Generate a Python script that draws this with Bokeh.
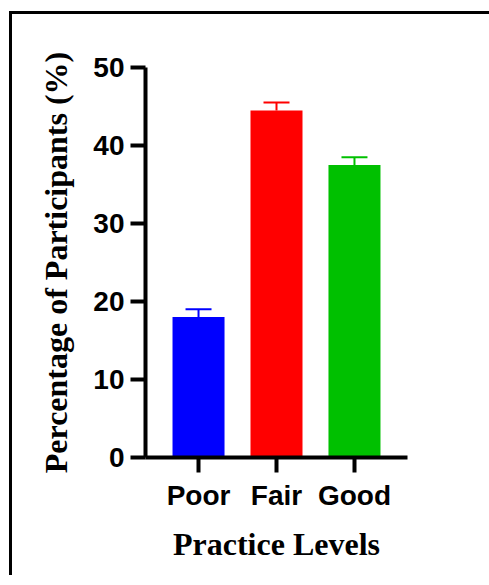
from bokeh.plotting import figure
from bokeh.models import Range1d, FactorRange, FixedTicker, ColumnDataSource
from bokeh.embed import file_html
from bokeh.resources import INLINE
from bokeh.transform import dodge

categories = ["Poor", "Fair", "Good"]
values = [18.0, 44.5, 37.5]
errors = [1.0, 1.0, 1.0]
colors = ["#0000FF", "#FF0000", "#00C000"]
y_ticks = [0, 10, 20, 30, 40, 50]

upper = [v + e for v, e in zip(values, errors)]
src = ColumnDataSource(dict(cat=categories, val=values, up=upper, color=colors))

p = figure(width=500, height=575, output_backend="svg", toolbar_location=None,
           x_range=FactorRange(factors=categories, range_padding=0.12),
           y_range=Range1d(0, 50),
           min_border_left=145, min_border_right=93, min_border_top=67, min_border_bottom=118)

p.vbar(x="cat", top="val", bottom=0, width=0.667, fill_color="color", line_color=None, source=src)
# error stems
p.segment(x0="cat", y0="val", x1="cat", y1="up", line_color="color", line_width=2, source=src)
# error caps
p.segment(x0=dodge("cat", -0.1667, range=p.x_range), y0="up",
          x1=dodge("cat", 0.1667, range=p.x_range), y1="up",
          line_color="color", line_width=2, source=src)

p.background_fill_color = "white"
p.border_fill_color = None
p.outline_line_color = None
p.xgrid.grid_line_color = None
p.ygrid.grid_line_color = None

for ax in (p.xaxis[0], p.yaxis[0]):
    ax.axis_line_width = 4
    ax.axis_line_color = "black"
    ax.major_tick_line_width = 4
    ax.major_tick_line_color = "black"
    ax.major_tick_out = 15
    ax.major_tick_in = 0
    ax.minor_tick_line_color = None
    ax.major_label_text_font = "Liberation Sans"
    ax.major_label_text_font_style = "bold"
    ax.major_label_text_font_size = "28px"
    ax.major_label_text_color = "black"
    ax.axis_label_text_font = "Liberation Serif"
    ax.axis_label_text_font_style = "bold"
    ax.axis_label_text_font_size = "32px"
    ax.axis_label_text_color = "black"

p.yaxis.ticker = FixedTicker(ticks=y_ticks)
p.yaxis.major_label_standoff = 6
p.yaxis.axis_label = "Percentage of Participants (%)"
p.yaxis.axis_label_standoff = 16
p.xaxis.major_label_standoff = 7
p.xaxis.axis_label = "Practice Levels"
p.xaxis.axis_label_standoff = 12

# outer frame of the original image (only its top and left edges are visible)
p.styles = {
    "background": ("linear-gradient(#000, #000) 9px 11px / 3px 100% no-repeat, "
                   "linear-gradient(#000, #000) 9px 11px / 100% 3px no-repeat, white"),
}

open("out.html", "w").write(file_html(p, INLINE))
